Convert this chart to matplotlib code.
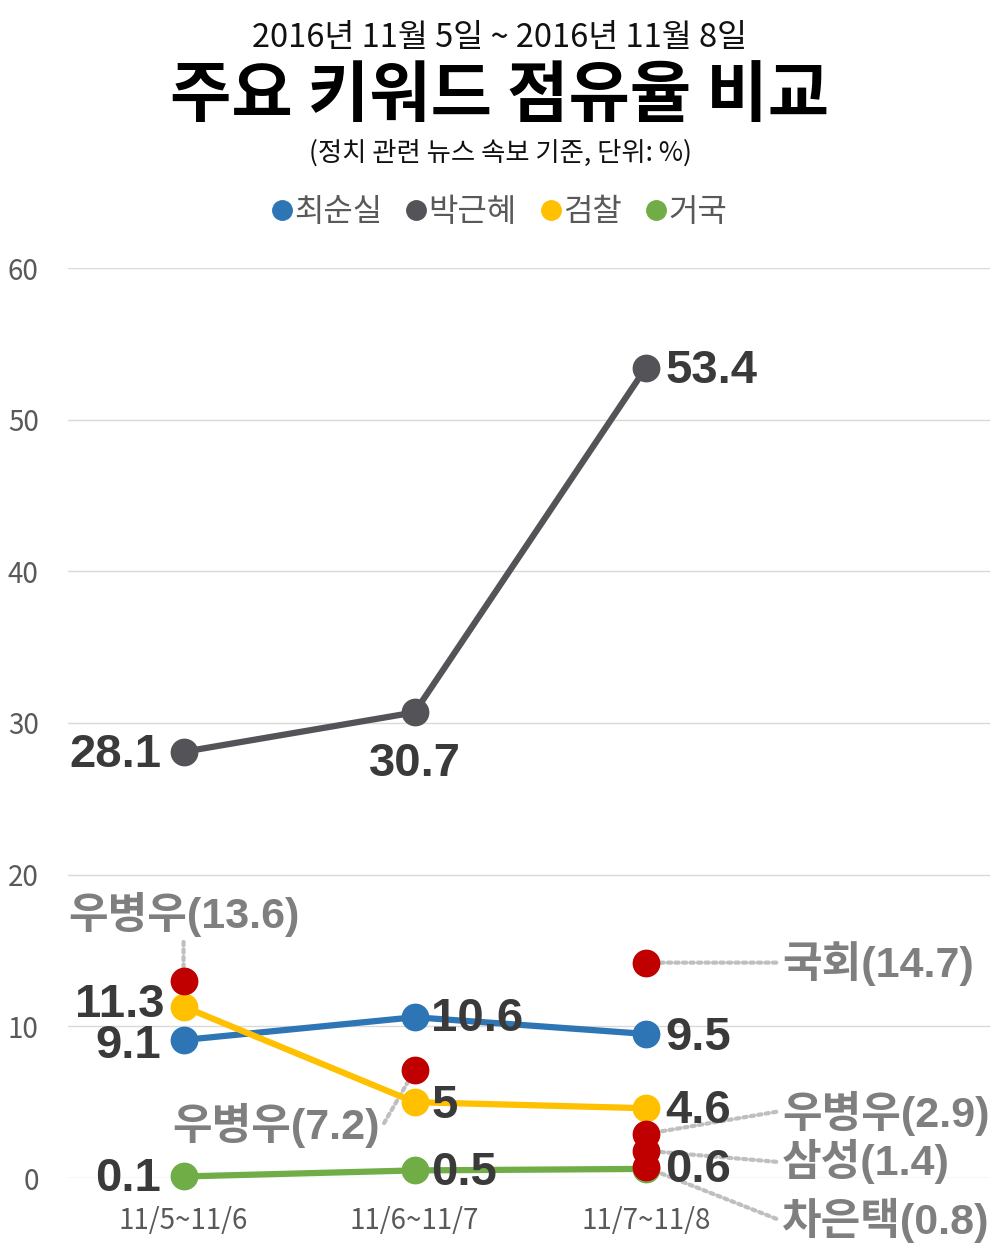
import matplotlib
matplotlib.use("Agg")
import matplotlib.pyplot as plt
from matplotlib.lines import Line2D

plt.rcParams['font.family'] = ['Noto Sans CJK KR', 'DejaVu Sans']

periods = ["11/5~11/6", "11/6~11/7", "11/7~11/8"]
series_names = ["최순실", "박근혜", "검찰", "거국"]
choi = [9.1, 10.6, 9.5]
park = [28.1, 30.7, 53.4]
prosecution = [11.3, 5, 4.6]
cabinet = [0.1, 0.5, 0.6]
colors = ["#2E75B6", "#545458", "#FFC000", "#70AD47"]

# extra keywords (red dots): period index, plotted height, label
extra_x = [0, 1, 2, 2, 2, 2]
extra_y = [13.0, 7.1, 14.2, 2.9, 1.8, 0.7]
extra_labels = ["우병우(13.6)", "우병우(7.2)", "국회(14.7)", "우병우(2.9)", "삼성(1.4)", "차은택(0.8)"]

yticks = [0, 10, 20, 30, 40, 50, 60]

num_font = ['Liberation Sans', 'Noto Sans CJK KR']

fig = plt.figure(figsize=(10, 12.5), dpi=100)
ax = fig.add_axes([0.068, 0.0576, 0.922, 0.728])
ax.set_xlim(-0.5, 3.49)
ax.set_ylim(0, 60)
for s in ax.spines.values():
    s.set_visible(False)
ax.set_yticks(yticks)
ax.set_yticklabels([str(t) for t in yticks], color="#595959", fontsize=20)
ax.set_xticks(range(3))
ax.set_xticklabels(periods, color="#595959", fontsize=20)
ax.tick_params(axis='y', length=0, pad=21)
ax.tick_params(axis='x', length=0, pad=20)
ax.grid(axis='y', color="#D9D9D9", linewidth=1)
ax.set_axisbelow(True)

xs = list(range(3))
all_series = [choi, park, prosecution, cabinet]
draw_order = [1, 0, 2, 3]
for i in draw_order:
    ax.plot(xs, all_series[i], color=colors[i], linewidth=4.5, marker='o',
            markersize=19, clip_on=False, zorder=3)

# red extra keyword dots
ax.plot(extra_x, extra_y, 'o', color="#C00000", markersize=19,
        clip_on=False, zorder=4)

lbl = dict(family=num_font, fontweight='bold', fontsize=34, color="#3A3A3A",
           zorder=6, annotation_clip=False)

def label(x, y, text, dx, dy, ha):
    ax.annotate(text, (x, y), xytext=(dx, dy), textcoords='offset points',
                ha=ha, va='center', **lbl)

# 박근혜
label(0, park[0], "28.1", -16, -2, 'right')
label(1, park[1], "30.7", 0, -37, 'center')
label(2, park[2], "53.4", 14, -2, 'left')
# 최순실
label(0, choi[0], "9.1", -16, -4, 'right')
label(1, choi[1], "10.6", 12, -1, 'left')
label(2, choi[2], "9.5", 14, -3, 'left')
# 검찰
label(0, prosecution[0], "11.3", -14, 1, 'right')
label(1, prosecution[1], "5", 12, -3, 'left')
label(2, prosecution[2], "4.6", 14, -2, 'left')
# 거국
label(0, cabinet[0], "0.1", -16, -2, 'right')
label(1, cabinet[1], "0.5", 12, -2, 'left')
label(2, cabinet[2], "0.6", 14, -1, 'left')

# extra keyword callouts (text offset in points, line end offset in points)
callouts = [
    ((0, 48), (0, 28), 'center'),
    ((-25, -40), (-22, -38), 'right'),
    ((98, -1), (94, 0), 'left'),
    ((98, 15), (94, 16), 'left'),
    ((98, -8), (94, -8), 'left'),
    ((98, -38), (94, -37), 'left'),
]
for k in range(len(extra_x)):
    (tx, ty), (lx, ly), ha = callouts[k]
    ax.annotate("", (extra_x[k], extra_y[k]), xytext=(lx, ly),
                textcoords='offset points', annotation_clip=False,
                arrowprops=dict(arrowstyle='-', color="#BFBFBF", linewidth=3,
                                linestyle=(0, (0.8, 1.0)), shrinkA=0, shrinkB=9),
                zorder=2)
    ax.annotate(extra_labels[k], (extra_x[k], extra_y[k]), xytext=(tx, ty),
                textcoords='offset points', ha=ha, va='center',
                family=num_font, fontweight='bold', fontsize=31,
                color="#7F7F7F", zorder=6, annotation_clip=False)

# titles
fig.text(0.5, 1 - 38 / 1250, "2016년 11월 5일 ~ 2016년 11월 8일", ha='center',
         va='center', fontsize=23.5, color="#111111")
fig.text(0.5, 1 - 97 / 1250, "주요 키워드 점유율 비교", ha='center', va='center',
         fontsize=48, fontweight='black', color="#000000")
fig.text(0.5, 1 - 153 / 1250, "(정치 관련 뉴스 속보 기준, 단위: %)", ha='center',
         va='center', fontsize=19, color="#111111")

handles = [Line2D([], [], linestyle='none', marker='o', markersize=14,
                  color=c) for c in colors]
fig.legend(handles, series_names, loc='center', bbox_to_anchor=(0.5, 1 - 212 / 1250),
           ncol=4, frameon=False, fontsize=23, handlelength=0.55,
           handletextpad=0.1, columnspacing=0.8, labelcolor="#595959")

fig.savefig("out.png", dpi=100)
